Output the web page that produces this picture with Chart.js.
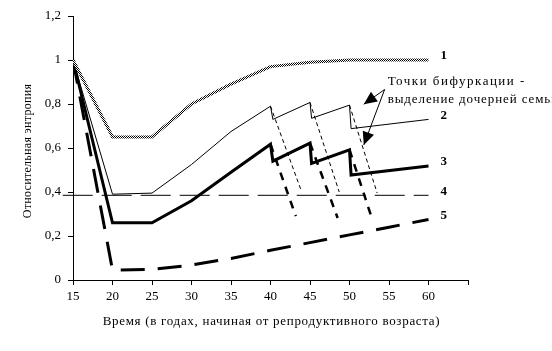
<!DOCTYPE html>
<html>
<head>
<meta charset="utf-8">
<script src="https://cdn.jsdelivr.net/npm/chart.js@4.4.1/dist/chart.umd.min.js"></script>
<style>
  html, body { margin: 0; padding: 0; background: #fff; }
</style>
</head>
<body>
<canvas id="myChart" width="552" height="351"></canvas>
<script>
const years = [15, 20, 25, 30, 35, 40, 45, 50, 55, 60];
const curve1 = [1, 0.65, 0.65, 0.8, 0.89, 0.97, 0.99, 1.0, 1.0, 1.0];
const curve2X = [15, 20, 25, 30, 35, 40, 40.3, 45, 45.2, 50, 50.2, 60];
const curve2Y = [1, 0.39, 0.395, 0.525, 0.675, 0.79, 0.73, 0.807, 0.735, 0.795, 0.688, 0.73];
const curve3X = [15, 20, 25, 30, 35, 40, 40.3, 45, 45.2, 50, 50.2, 60];
const curve3Y = [1, 0.26, 0.26, 0.36, 0.49, 0.617, 0.54, 0.622, 0.53, 0.592, 0.477, 0.518];
const curve4X = [13.7, 60];
const curve4Y = [0.385, 0.385];
const curve5 = [1, 0.045, 0.048, 0.068, 0.098, 0.135, 0.17, 0.205, 0.24, 0.275];
// daughter-family branches: [x start, y start, x end, y end]
const branchThin = [[40, 0.79, 43.9, 0.405], [45, 0.807, 48.7, 0.4], [50, 0.795, 53.5, 0.395]];
const branchThick = [[40, 0.617, 43.2, 0.29], [45, 0.622, 48.5, 0.282], [50, 0.592, 52.9, 0.273]];
const seriesLabels = ["1", "2", "3", "4", "5"];
const noteLines = ["Точки бифуркации -", "выделение дочерней семьи"];
const noteFrom = [54.45, 0.866];
const noteTips = [[51.81, 0.799], [51.81, 0.614]];
const xTitle = "Время (в годах, начиная от репродуктивного возраста)";
const yTitle = "Относительная энтропия";

const serif = "'Liberation Serif', 'Times New Roman', serif";

function pts(xs, ys) {
  return xs.map((x, i) => ({ x: x, y: ys[i] }));
}

// checkered grey look of line 1
const pc = document.createElement("canvas");
pc.width = 2;
pc.height = 2;
const pctx = pc.getContext("2d");
pctx.fillStyle = "#fff";
pctx.fillRect(0, 0, 2, 2);
pctx.fillStyle = "#000";
pctx.fillRect(0, 0, 1, 1);
pctx.fillRect(1, 1, 1, 1);
const hatch = pctx.createPattern(pc, "repeat");

const base = { pointRadius: 0, fill: false, tension: 0, borderColor: "#000" };

const datasets = [
  { ...base, data: pts(years, curve1), borderColor: hatch, borderWidth: 3, label: "1" },
  { ...base, data: pts(curve2X, curve2Y), borderWidth: 1, label: "2" },
  { ...base, data: pts(curve3X, curve3Y), borderWidth: 3, label: "3" },
  { ...base, data: pts(curve4X, curve4Y), borderWidth: 1, borderDash: [30, 9], label: "4",
    clip: { left: 15, top: 0, right: 0, bottom: 0 } },
  { ...base, data: pts(years, curve5), borderWidth: 3, borderDash: [24, 13], label: "5" },
];
branchThin.forEach((b) => {
  datasets.push({ ...base, data: [{ x: b[0], y: b[1] }, { x: b[2], y: b[3] }], borderWidth: 1, borderDash: [4, 3] });
});
branchThick.forEach((b) => {
  datasets.push({ ...base, data: [{ x: b[0], y: b[1] }, { x: b[2], y: b[3] }], borderWidth: 2.5, borderDash: [8, 7] });
});

function arrowHead(ctx, fx, fy, tx, ty, len, half) {
  const a = Math.atan2(ty - fy, tx - fx);
  ctx.beginPath();
  ctx.moveTo(tx, ty);
  ctx.lineTo(tx - len * Math.cos(a) + half * Math.sin(a), ty - len * Math.sin(a) - half * Math.cos(a));
  ctx.lineTo(tx - len * Math.cos(a) - half * Math.sin(a), ty - len * Math.sin(a) + half * Math.cos(a));
  ctx.closePath();
  ctx.fill();
}

const extras = {
  id: "extras",
  afterDatasetsDraw(chart) {
    const { ctx, scales, chartArea } = chart;
    const sx = scales.x, sy = scales.y;
    ctx.save();
    ctx.fillStyle = "#000";
    ctx.strokeStyle = "#000";

    // series numbers at line ends
    ctx.font = "bold 13px " + serif;
    ctx.textAlign = "left";
    ctx.textBaseline = "middle";
    seriesLabels.forEach((lab, i) => {
      const d = chart.data.datasets[i].data;
      const p = d[d.length - 1];
      ctx.fillText(lab, sx.getPixelForValue(p.x) + 12, sy.getPixelForValue(p.y) - 4);
    });

    // note with arrows
    const ox = sx.getPixelForValue(noteFrom[0]);
    const oy = sy.getPixelForValue(noteFrom[1]);
    ctx.lineWidth = 1;
    noteTips.forEach((t) => {
      const tx = sx.getPixelForValue(t[0]);
      const ty = sy.getPixelForValue(t[1]);
      ctx.beginPath();
      ctx.moveTo(ox, oy);
      ctx.lineTo(tx, ty);
      ctx.stroke();
      arrowHead(ctx, ox, oy, tx, ty, 13, 6);
    });
    ctx.font = "13px " + serif;
    ctx.letterSpacing = "1.5px";
    ctx.fillText(noteLines[0], ox + 3, oy - 8);
    ctx.letterSpacing = "0.9px";
    ctx.fillText(noteLines[1], ox + 3, oy + 10);

    // axis titles
    ctx.font = "13px " + serif;
    ctx.letterSpacing = "0.7px";
    ctx.textAlign = "center";
    ctx.fillText(xTitle, (chartArea.left + chartArea.right) / 2 + 1, 322);
    ctx.font = "12px " + serif;
    ctx.letterSpacing = "0.3px";
    ctx.translate(28, (chartArea.top + chartArea.bottom) / 2 + 3);
    ctx.rotate(-Math.PI / 2);
    ctx.fillText(yTitle, 0, 0);
    ctx.letterSpacing = "0px";
    ctx.restore();
  },
};

const tickFont = { family: serif, size: 13 };

new Chart(document.getElementById("myChart"), {
  type: "line",
  data: { datasets: datasets },
  plugins: [extras],
  options: {
    responsive: false,
    animation: false,
    events: [],
    layout: { padding: { top: 16, right: 84, left: 0, bottom: 0 } },
    plugins: { legend: { display: false }, tooltip: { enabled: false } },
    scales: {
      x: {
        type: "linear",
        min: 15,
        max: 65,
        ticks: {
          stepSize: 5,
          color: "#000",
          font: tickFont,
          padding: 4,
          maxRotation: 0,
          autoSkip: false,
          callback: (v) => (v === 65 ? "" : v),
        },
        grid: { drawOnChartArea: false, color: "#000", tickLength: 5 },
        border: { color: "#000", width: 1 },
        afterFit: (s) => { s.height = 71; },
      },
      y: {
        min: 0,
        max: 1.2,
        ticks: {
          stepSize: 0.2,
          color: "#000",
          font: tickFont,
          padding: 7,
          callback: (v) => String(Number(v.toFixed(1))).replace(".", ","),
        },
        grid: { drawOnChartArea: false, color: "#000", tickLength: 5 },
        border: { color: "#000", width: 1 },
        afterFit: (s) => { s.width = 73; },
      },
    },
  },
});
</script>
</body>
</html>
